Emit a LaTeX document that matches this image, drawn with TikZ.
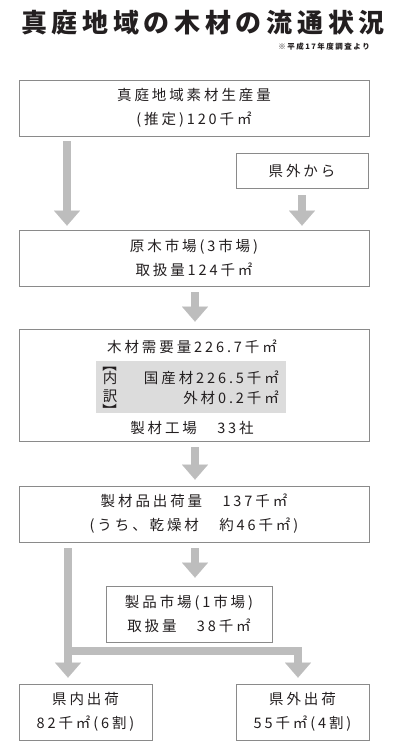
\documentclass[tikz,border=0pt]{standalone}
\usepackage{fontspec}
\newfontfamily\jpfont[LetterSpace=20]{Noto Sans CJK JP}
\newfontfamily\jptitle[LetterSpace=18]{Noto Sans CJK JP}
\usetikzlibrary{positioning,arrows.meta}
\definecolor{frame}{HTML}{8A8A8A}
\definecolor{flowgray}{HTML}{BDBDBD}
\definecolor{panelgray}{HTML}{DCDCDC}
\definecolor{ink}{HTML}{231F20}
\tikzset{
  box/.style   ={draw=frame, line width=0.8pt, fill=white, inner sep=0pt, minimum height=56pt, align=center, text=ink, font=\jpfont\fontsize{14.5}{24}\selectfont},
  panel/.style ={fill=panelgray, inner sep=0pt, minimum width=190pt, minimum height=52pt},
  txt/.style   ={inner sep=0pt, text=ink, font=\jpfont\fontsize{14.5}{24}\selectfont},
  bracket/.style={inner sep=0pt, rotate=-90, text=ink, font=\jpfont\fontsize{14.5}{24}\selectfont},
  flow/.style  ={-{Triangle[length=15pt,width=26pt,line width=0.01pt]}, line width=8.5pt, draw=flowgray, shorten <=6pt, shorten >=6pt},
}

\begin{document}
\begin{tikzpicture}[x=1pt,y=-1pt]
  \useasboundingbox (0,0) rectangle (403,748);
  % title
  \node[inner sep=0pt, text=ink, font=\jptitle\bfseries\fontsize{26}{30}\selectfont] (title) at (203,23) {真庭地域の木材の流通状況};
  \node[inner sep=0pt, anchor=east, text=ink, font=\jpfont\bfseries\fontsize{7.5}{9}\selectfont] (src) at (370,47) {※平成17年度調査より};

  % columns of the arrows
  \coordinate (colL) at (67,0);
  \coordinate (colM) at (195,0);
  \coordinate (colR) at (298,0);
  \coordinate (split) at (68,651);

  % boxes
  \node[box, minimum width=350pt] (prod) at (194,108) {真庭地域素材生産量\\(推定)120千㎡};
  \node[box, minimum width=132pt, minimum height=35pt] (kengai) at (302,170.5) {県外から};
  \node[box, minimum width=350pt] (genboku) at (194,258) {原木市場(3市場)\\取扱量124千㎡};
  \node[box, minimum width=350pt, minimum height=112pt] (juyo) at (194,385) {};
  \node[panel] (naiyaku) at (191,387) {};
  \node[box, minimum width=350pt] (shukka) at (194,514) {製材品出荷量　137千㎡\\(うち、乾燥材　約46千㎡)};
  \node[box, minimum width=166pt] (seihin) at (189,614) {製品市場(1市場)\\取扱量　38千㎡};
  \node[box, minimum width=133pt] (kennai) at (85.5,712) {県内出荷\\82千㎡(6割)};
  \node[box, minimum width=133pt] (kengaiout) at (302.5,712) {県外出荷\\55千㎡(4割)};

  % inside the demand box
  \node[txt] (demand) at (192,347) {木材需要量226.7千㎡};
  \node[txt] (mills) at (192,428) {製材工場　33社};
  \node[bracket] (brA) at (110,365) {【};
  \node[txt] (nai) at (110,378) {内};
  \node[txt] (yaku) at (110,396) {訳};
  \node[bracket] (brB) at (110,410.5) {】};
  \node[txt, anchor=east] (kokusan) at (279,378) {国産材226.5千㎡};
  \node[txt, anchor=east] (gaizai) at (279,398) {外材0.2千㎡};

  % flows
  \draw[flow, shorten <=5pt, shorten >=4pt] (prod.south -| colL) -- (genboku.north -| colL);
  \draw[flow, shorten <=7pt, shorten >=4pt] (kengai.south) -- (genboku.north -| kengai);
  \draw[flow, shorten >=7pt] (genboku.south -| colM) -- (juyo.north -| colM);
  \draw[flow] (juyo.south -| colM) -- (shukka.north -| colM);
  \draw[flow, shorten >=8pt] (shukka.south -| colM) -- (seihin.north -| colM);
  \draw[flow] (shukka.south -| split) -- (kennai.north -| split);
  \draw[flow, shorten <=0pt] (split) -| (kengaiout.north -| colR);
\end{tikzpicture}
\end{document}
